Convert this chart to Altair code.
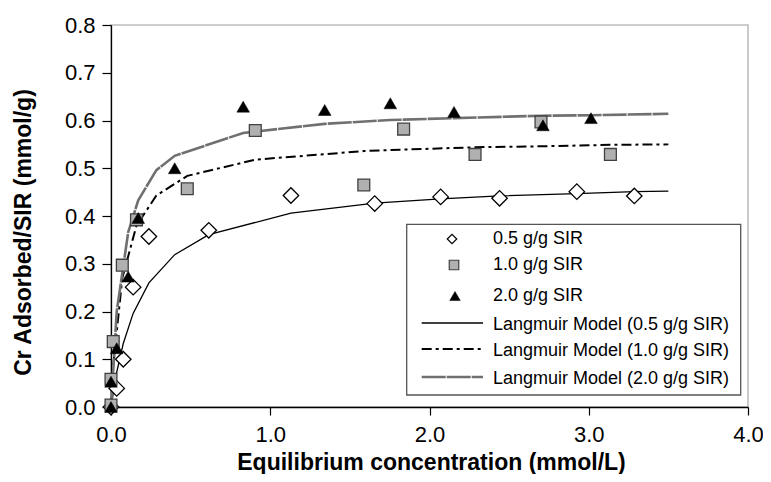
import altair as alt
import pandas as pd

# ---- data ----
c05 = [0.0, 0.036, 0.077, 0.139, 0.238, 0.614, 1.13, 1.656, 2.07, 2.44, 2.925, 3.286]
q05 = [0.0, 0.039, 0.100, 0.251, 0.357, 0.370, 0.443, 0.426, 0.440, 0.437, 0.451, 0.442]

c10 = [0.0, 0.0, 0.014, 0.071, 0.16, 0.479, 0.906, 1.5875, 1.8375, 2.286, 2.70, 3.136]
q10 = [0.004, 0.058, 0.137, 0.297, 0.392, 0.457, 0.579, 0.465, 0.582, 0.529, 0.597, 0.529]

c20 = [0.0, 0.0, 0.036, 0.108, 0.171, 0.40, 0.83, 1.342, 1.754, 2.154, 2.7125, 3.014]
q20 = [0.0, 0.053, 0.123, 0.273, 0.396, 0.50, 0.629, 0.622, 0.636, 0.618, 0.590, 0.605]

m05_c = [0.0, 0.036, 0.077, 0.139, 0.238, 0.4, 0.614, 1.13, 1.656, 2.07, 2.44, 2.925, 3.286, 3.5]
m05_q = [0.0, 0.073, 0.133, 0.196, 0.260, 0.319, 0.361, 0.406, 0.427, 0.436, 0.442, 0.447, 0.451, 0.452]

m10_c = [0.0, 0.014, 0.071, 0.16, 0.285, 0.479, 0.906, 1.5875, 1.8375, 2.286, 2.70, 3.136, 3.5]
m10_q = [0.0, 0.087, 0.270, 0.380, 0.443, 0.484, 0.518, 0.536, 0.539, 0.544, 0.546, 0.549, 0.550]

m20_c = [0.0, 0.036, 0.108, 0.171, 0.285, 0.40, 0.83, 1.342, 1.754, 2.154, 2.7125, 3.014, 3.5]
m20_q = [0.0, 0.200, 0.366, 0.433, 0.496, 0.526, 0.574, 0.593, 0.601, 0.605, 0.610, 0.611, 0.614]

x_ticks = [0, 1, 2, 3, 4]
y_ticks = [0.0, 0.1, 0.2, 0.3, 0.4, 0.5, 0.6, 0.7, 0.8]

point_labels = ["0.5 g/g SIR", "1.0 g/g SIR", "2.0 g/g SIR"]
line_labels = ["Langmuir Model (0.5 g/g SIR)", "Langmuir Model (1.0 g/g SIR)",
               "Langmuir Model (2.0 g/g SIR)"]

FONT = "Liberation Sans"

xscale = alt.Scale(domain=[0, 4], nice=False, zero=False)
yscale = alt.Scale(domain=[0, 0.8], nice=False, zero=False)

xaxis = alt.Axis(values=x_ticks, format=".1f", title="Equilibrium concentration (mmol/L)",
                 titleX=320, titleY=55, titleBaseline="middle", titleAlign="center",
                 labelPadding=9, tickSize=8, labelFlush=False)
yaxis = alt.Axis(values=y_ticks, format=".1f", title="Cr Adsorbed/SIR (mmol/g)",
                 titleX=-88, titleY=207, titleAngle=270, titleBaseline="middle",
                 titleAlign="center", labelPadding=7, tickSize=9, labelFlush=False)


def df(c, q):
    return pd.DataFrame({"c": c, "q": q})


def enc(first=False):
    if first:
        return dict(x=alt.X("c:Q", scale=xscale, axis=xaxis),
                    y=alt.Y("q:Q", scale=yscale, axis=yaxis))
    return dict(x=alt.X("c:Q", scale=xscale), y=alt.Y("q:Q", scale=yscale))


line05 = alt.Chart(df(m05_c, m05_q)).mark_line(color="black", strokeWidth=1.3).encode(**enc(True))
line10 = alt.Chart(df(m10_c, m10_q)).mark_line(color="black", strokeWidth=2,
                                               strokeDash=[10, 4, 3, 4]).encode(**enc())
line20 = alt.Chart(df(m20_c, m20_q)).mark_line(color="#707070", strokeWidth=2.6,
                                               strokeDash=[24, 1]).encode(**enc())

pts05 = alt.Chart(df(c05, q05)).mark_point(shape="diamond", size=240, filled=True, fill="white",
                                           stroke="black", strokeWidth=1.3, opacity=1).encode(**enc())
pts10 = alt.Chart(df(c10, q10)).mark_point(shape="square", size=140, filled=True, fill="#b0b0b0",
                                           stroke="#404040", strokeWidth=1.3, opacity=1).encode(**enc())
pts20 = alt.Chart(df(c20, q20)).mark_point(shape="triangle-up", size=160, filled=True,
                                           fill="black", stroke="black", strokeWidth=0.5,
                                           opacity=1).encode(**enc())

# ---- legend (drawn in pixel space over the plot) ----
one = pd.DataFrame({"k": [0]})
legend_layers = [
    alt.Chart(one).mark_rect(fill="white", stroke="#555555", strokeWidth=1.3).encode(
        x=alt.value(295.7), x2=alt.value(629.7), y=alt.value(199.3), y2=alt.value(370))
]
sym_styles = [
    dict(shape="diamond", size=90, fill="white", stroke="black", strokeWidth=1.2),
    dict(shape="square", size=90, fill="#b0b0b0", stroke="#404040", strokeWidth=1.2),
    dict(shape="triangle-up", size=110, fill="black", stroke="black", strokeWidth=0.5),
]
sym_x = [341, 343, 344]
pt_rows = [214, 240, 271]
for lab, st, sx, yy in zip(point_labels, sym_styles, sym_x, pt_rows):
    legend_layers.append(
        alt.Chart(one).mark_point(filled=True, opacity=1, **st).encode(
            x=alt.value(sx), y=alt.value(yy)))
    legend_layers.append(
        alt.Chart(pd.DataFrame({"t": [lab]})).mark_text(
            align="left", baseline="middle", font=FONT, fontSize=18, color="black").encode(
            x=alt.value(382), y=alt.value(yy), text="t:N"))

line_styles = [
    dict(color="black", strokeWidth=1.3),
    dict(color="black", strokeWidth=2, strokeDash=[10, 4, 3, 4]),
    dict(color="#707070", strokeWidth=2.6, strokeDash=[24, 1]),
]
ln_rows = [300, 326, 354]
for lab, st, yy in zip(line_labels, line_styles, ln_rows):
    legend_layers.append(
        alt.Chart(one).mark_rule(**st).encode(
            x=alt.value(310.7), x2=alt.value(372), y=alt.value(yy - 2)))
    legend_layers.append(
        alt.Chart(pd.DataFrame({"t": [lab]})).mark_text(
            align="left", baseline="middle", font=FONT, fontSize=18, color="black").encode(
            x=alt.value(382), y=alt.value(yy), text="t:N"))

chart = alt.layer(line05, line10, line20, pts05, pts10, pts20, *legend_layers).properties(
    width=637, height=382,
    autosize=alt.AutoSizeParams(type="none"),
    padding={"left": 103, "top": 17, "right": 15, "bottom": 67},
    background="white",
).configure_view(
    stroke="#bdbdbd", strokeWidth=1.6
).configure_axis(
    grid=False, domainColor="black", domainWidth=1.3, tickColor="black", tickWidth=1.2,
    labelFont=FONT, labelFontSize=22, labelColor="black",
    titleFont=FONT, titleFontSize=23, titleFontWeight="bold", titleColor="black",
)

chart.save("out.html", embed_options={"renderer": "svg", "actions": False})
